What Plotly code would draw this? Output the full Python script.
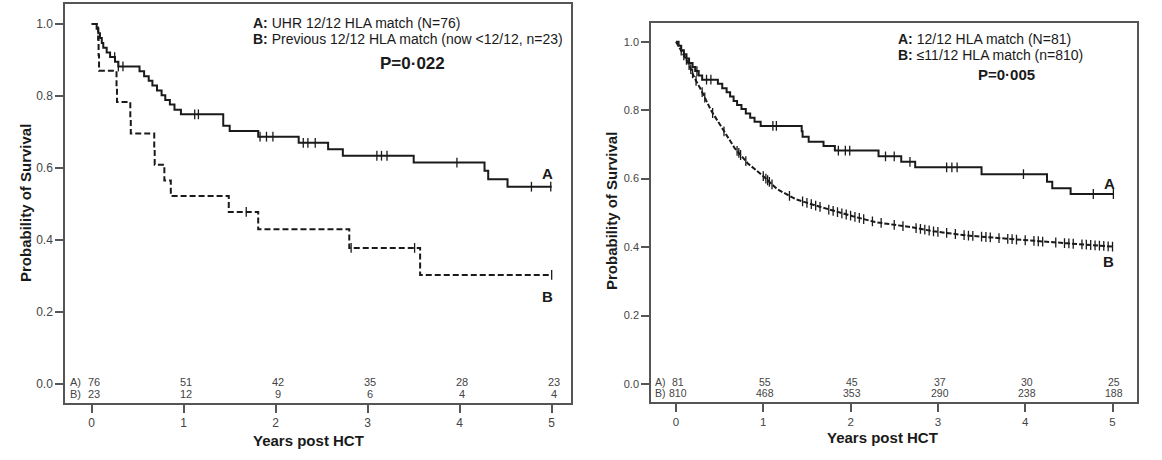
import numpy as np
import plotly.graph_objects as go

# ---------------- data ----------------
# Left panel
L_A_t = [0, 0.054, 0.072, 0.09, 0.11, 0.126, 0.163, 0.20, 0.253, 0.29,
         0.52, 0.57, 0.62, 0.66, 0.71, 0.76, 0.80, 0.85, 0.90, 0.97,
         1.43, 1.50, 1.81, 2.25, 2.57, 2.73, 3.50, 4.27, 4.31, 4.52, 5.0]
L_A_s = [1.0, 0.987, 0.974, 0.961, 0.947, 0.934, 0.921, 0.908, 0.895, 0.882,
         0.869, 0.855, 0.842, 0.829, 0.815, 0.802, 0.789, 0.776, 0.762, 0.749,
         0.717, 0.703, 0.687, 0.670, 0.652, 0.634, 0.615, 0.592, 0.569, 0.548, 0.548]
L_A_cens = [0.25, 0.29, 0.34, 1.12, 1.16, 1.83, 1.90, 1.97, 2.30, 2.35, 2.43,
            3.10, 3.15, 3.21, 3.97, 4.78, 4.99]

L_B_t = [0, 0.07, 0.075, 0.08, 0.27, 0.275, 0.42, 0.425, 0.68, 0.685, 0.79, 0.86,
         1.49, 1.81, 2.80, 3.57, 5.0]
L_B_s = [1.0, 0.957, 0.913, 0.870, 0.826, 0.783, 0.739, 0.696, 0.652, 0.609, 0.565, 0.522,
         0.478, 0.430, 0.378, 0.303, 0.303]
L_B_cens = [1.68, 2.82, 3.51, 5.0]

L_risk_years = [0, 1, 2, 3, 4, 5]
L_risk_A = [76, 51, 42, 35, 28, 23]
L_risk_B = [23, 12, 9, 6, 4, 4]

# Right panel
R_A_t = [0, 0.03, 0.06, 0.09, 0.12, 0.15, 0.19, 0.22, 0.26, 0.30,
         0.48, 0.53, 0.58, 0.62, 0.66, 0.70, 0.75, 0.80, 0.85, 0.90, 0.97,
         1.44, 1.45, 1.52, 1.69, 1.82, 2.32, 2.58, 2.74, 3.50, 4.25, 4.31, 4.52, 5.01]
R_A_s = [1.0, 0.988, 0.975, 0.963, 0.951, 0.938, 0.926, 0.914, 0.901, 0.889,
         0.877, 0.864, 0.852, 0.840, 0.827, 0.815, 0.803, 0.790, 0.778, 0.766, 0.754,
         0.738, 0.722, 0.708, 0.695, 0.682, 0.665, 0.649, 0.633, 0.613, 0.591, 0.572, 0.555, 0.555]
R_A_cens = [0.24, 0.35, 0.40, 1.11, 1.15, 1.86, 1.94, 1.99, 2.40, 2.50, 2.68,
            3.10, 3.16, 3.22, 3.98, 4.78, 5.01]

R_B_t = [0, 0.05, 0.10, 0.14, 0.21, 0.29, 0.40, 0.52, 0.67, 0.82, 1.0, 1.16,
         1.37, 1.59, 1.82, 2.04, 2.28, 2.58, 2.72, 2.95, 3.33, 3.71, 4.09, 4.48, 4.86, 5.01]
R_B_s = [1.0, 0.978, 0.956, 0.938, 0.895, 0.858, 0.800, 0.750, 0.690, 0.645, 0.607, 0.569,
         0.540, 0.522, 0.504, 0.489, 0.473, 0.462, 0.457, 0.446, 0.434, 0.426, 0.418, 0.411, 0.404, 0.401]
R_B_cens = [0.06, 0.09, 0.12, 0.15, 0.17, 0.19, 0.23, 0.30, 0.33, 0.42, 0.55, 0.70, 0.72, 0.74,
            0.80, 1.00, 1.03, 1.05, 1.07, 1.10, 1.30, 1.45, 1.50, 1.55, 1.60, 1.65, 1.75, 1.80,
            1.85, 1.90, 1.95, 2.00, 2.05, 2.10, 2.15, 2.25, 2.35, 2.50, 2.60, 2.75, 2.80, 2.85,
            2.90, 2.95, 3.00, 3.10, 3.20, 3.30, 3.35, 3.40, 3.50, 3.55, 3.60, 3.70, 3.80, 3.85,
            3.90, 4.00, 4.10, 4.15, 4.20, 4.35, 4.45, 4.50, 4.55, 4.65, 4.70, 4.75, 4.80, 4.85,
            4.90, 4.95, 5.00]

R_risk_years = [0, 1, 2, 3, 4, 5]
R_risk_A = [81, 55, 45, 37, 30, 25]
R_risk_B = [810, 468, 353, 290, 238, 188]

# ---------------- figure ----------------
FONT = "Arial, 'Liberation Sans', sans-serif"
INK = "#1a1a1a"
AX = "#555555"
W, H = 1162, 460


def step_val(t_list, s_list, t):
    idx = np.searchsorted(np.array(t_list), t, side="right") - 1
    return float(np.array(s_list)[max(idx, 0)])


fig = go.Figure()


def add_curve(t, s, cens, xa, ya, dash, shape, lookup):
    fig.add_trace(go.Scatter(x=t, y=s, mode="lines", line=dict(color=INK, width=2, dash=dash, shape=shape),
                             xaxis=xa, yaxis=ya, hoverinfo="skip", showlegend=False))
    cy = [lookup(c) for c in cens]
    fig.add_trace(go.Scatter(x=cens, y=cy, mode="markers",
                             marker=dict(symbol="line-ns", size=7, line=dict(color=INK, width=1.3)),
                             xaxis=xa, yaxis=ya, hoverinfo="skip", showlegend=False))


add_curve(L_A_t, L_A_s, L_A_cens, "x", "y", "solid", "hv", lambda c: step_val(L_A_t, L_A_s, c))
add_curve(L_B_t, L_B_s, L_B_cens, "x", "y", "6px,3px", "hv", lambda c: step_val(L_B_t, L_B_s, c))
add_curve(R_A_t, R_A_s, R_A_cens, "x2", "y2", "solid", "hv", lambda c: step_val(R_A_t, R_A_s, c))
add_curve(R_B_t, R_B_s, R_B_cens, "x2", "y2", "5px,2px", "linear",
          lambda c: float(np.interp(c, R_B_t, R_B_s)))


def px_to_paper_x(px):
    return px / W


def px_to_paper_y(py):
    return (H - py) / H


def axis_style(fs):
    return dict(showgrid=False, zeroline=False, showline=True, linecolor=AX, linewidth=1.5,
                mirror=True, ticks="outside", ticklen=8, tickwidth=1.5, tickcolor=AX,
                tickfont=dict(family=FONT, size=fs, color="#444444"))


fig.update_layout(
    width=W, height=H, margin=dict(l=0, r=0, t=0, b=0),
    paper_bgcolor="white", plot_bgcolor="white",
    xaxis=dict(domain=[65 / W, 571 / W], range=[-0.29, 5.21], tickvals=[0, 1, 2, 3, 4, 5],
               anchor="y", **axis_style(12)),
    yaxis=dict(domain=[px_to_paper_y(403), px_to_paper_y(4)], range=[-0.0528, 1.0555],
               tickvals=[0, 0.2, 0.4, 0.6, 0.8, 1.0], tickformat=".1f", anchor="x", **axis_style(12)),
    xaxis2=dict(domain=[651 / W, 1136.7 / W], range=[-0.286, 5.277], tickvals=[0, 1, 2, 3, 4, 5],
                anchor="y2", **axis_style(11.5)),
    yaxis2=dict(domain=[px_to_paper_y(402.3), px_to_paper_y(22.5)], range=[-0.0535, 1.056],
                tickvals=[0, 0.2, 0.4, 0.6, 0.8, 1.0], tickformat=".1f", anchor="x2", **axis_style(11)),
)

ann = []


def text(x, y, s, size=13, bold=False, xanchor="left", xref="paper", yref="paper", color=INK, angle=0):
    ann.append(dict(x=x, y=y, xref=xref, yref=yref, text=("<b>%s</b>" % s) if bold else s,
                    showarrow=False, xanchor=xanchor, yanchor="middle", textangle=angle,
                    font=dict(family=FONT, size=size, color=color)))


# Left panel legend text
text(px_to_paper_x(251), px_to_paper_y(22.7), "<b>A:</b> UHR 12/12 HLA match (N=76)", size=14)
text(px_to_paper_x(251), px_to_paper_y(39.3), "<b>B:</b> Previous 12/12 HLA match (now &lt;12/12, n=23)", size=14)
text(px_to_paper_x(412.5), px_to_paper_y(63.3), "P=0·022", size=17, bold=True, xanchor="center")
text(px_to_paper_x(547), px_to_paper_y(173), "A", size=15, bold=True, xanchor="center")
text(px_to_paper_x(547), px_to_paper_y(297), "B", size=15, bold=True, xanchor="center")
# Right panel legend text
text(px_to_paper_x(896), px_to_paper_y(39.3), "<b>A:</b> 12/12 HLA match (N=81)", size=14)
text(px_to_paper_x(896), px_to_paper_y(55), "<b>B:</b> ≤11/12 HLA match (n=810)", size=14)
text(px_to_paper_x(1006.5), px_to_paper_y(75), "P=0·005", size=15, bold=True, xanchor="center")
text(px_to_paper_x(1109.5), px_to_paper_y(183.3), "A", size=15, bold=True, xanchor="center")
text(px_to_paper_x(1108.5), px_to_paper_y(261.7), "B", size=15, bold=True, xanchor="center")

# Axis titles
text(px_to_paper_x(25), px_to_paper_y(203), "Probability of Survival", size=15, bold=True,
     xanchor="center", angle=-90)
text(px_to_paper_x(611), px_to_paper_y(211), "Probability of Survival", size=15, bold=True,
     xanchor="center", angle=-90)
text(px_to_paper_x(308.5), px_to_paper_y(440.7), "Years post HCT", size=15, bold=True, xanchor="center")
text(px_to_paper_x(882), px_to_paper_y(437.3), "Years post HCT", size=15, bold=True, xanchor="center")

# Number at risk
RISK_C = "#444444"
text(px_to_paper_x(68), px_to_paper_y(381.7), "A)", size=11, color=RISK_C)
text(px_to_paper_x(68), px_to_paper_y(394), "B)", size=11, color=RISK_C)
for yr, a, b in zip(L_risk_years, L_risk_A, L_risk_B):
    ann.append(dict(x=yr + 0.02, y=px_to_paper_y(381.7), xref="x", yref="paper", text=str(a), showarrow=False,
                    xanchor="center", yanchor="middle", font=dict(family=FONT, size=11, color=RISK_C)))
    ann.append(dict(x=yr + 0.02, y=px_to_paper_y(394), xref="x", yref="paper", text=str(b), showarrow=False,
                    xanchor="center", yanchor="middle", font=dict(family=FONT, size=11, color=RISK_C)))
text(px_to_paper_x(653), px_to_paper_y(381.7), "A)", size=10.5, color=RISK_C)
text(px_to_paper_x(653), px_to_paper_y(393.3), "B)", size=10.5, color=RISK_C)
for yr, a, b in zip(R_risk_years, R_risk_A, R_risk_B):
    ann.append(dict(x=yr + 0.02, y=px_to_paper_y(381.7), xref="x2", yref="paper", text=str(a), showarrow=False,
                    xanchor="center", yanchor="middle", font=dict(family=FONT, size=10.5, color=RISK_C)))
    ann.append(dict(x=yr + 0.02, y=px_to_paper_y(393.3), xref="x2", yref="paper", text=str(b), showarrow=False,
                    xanchor="center", yanchor="middle", font=dict(family=FONT, size=10.5, color=RISK_C)))

fig.update_layout(annotations=ann)
fig.write_html("out.html", config={"displayModeBar": False},
               post_script="document.body.style.margin='0';document.body.style.overflow='hidden';")
